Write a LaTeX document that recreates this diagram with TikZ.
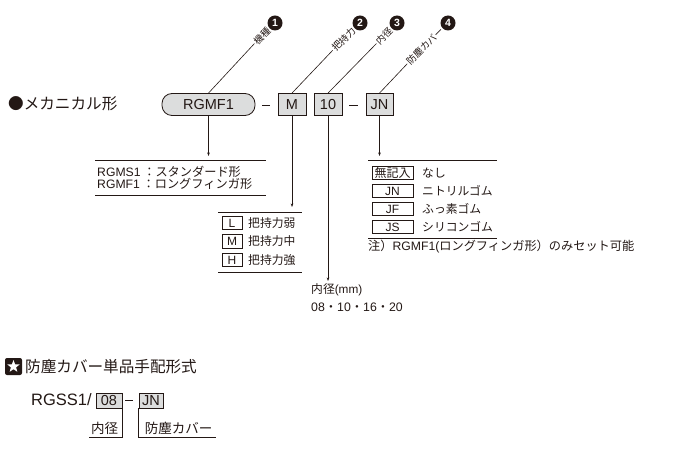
\documentclass[tikz,border=0pt]{standalone}
\usepackage{fontspec}
\setmainfont{Noto Sans CJK JP}
\newfontfamily\lat{Liberation Sans}
\usetikzlibrary{arrows.meta,shapes.geometric}

\definecolor{boxgray}{RGB}{220,221,221}
\definecolor{inkblack}{RGB}{35,24,21}

\tikzset{
	codebox/.style={draw=inkblack, fill=boxgray, line width=0.8pt, minimum height=22pt, inner sep=0pt, font=\fontsize{14.5}{15}\selectfont\lat},
	itembox/.style={draw=inkblack, line width=0.7pt, minimum height=13.5pt, inner sep=0pt, font=\fontsize{12}{12}\selectfont\lat},
	itemtext/.style={anchor=west, inner sep=0pt, font=\fontsize{11.8}{13}\selectfont},
	numdot/.style={circle, fill=inkblack, text=white, minimum size=15pt, inner sep=0pt, font=\fontsize{10.5}{10.5}\selectfont\lat\bfseries},
	leadtext/.style={rotate=45, anchor=east, inner sep=1pt, font=\fontsize{9.5}{10}\selectfont},
	pointer/.style={line width=0.6pt, -{Stealth[length=3.5pt,width=2.6pt]}},
	rule/.style={line width=0.7pt},
	heading/.style={anchor=west, inner sep=0pt, font=\fontsize{15.6}{17}\selectfont}
}

\begin{document}
\begin{tikzpicture}[x=1pt,y=-1pt,inkblack]
	\useasboundingbox (0,0) rectangle (700,462);

	% model code
	\node[heading] (mech) at (8,104) {●メカニカル形};
	\node[codebox, rounded corners=10pt, minimum width=93pt] (rgmf) at (208.5,104.5) {RGMF1};
	\node[codebox, minimum width=28pt] (grip) at (292,104.5) {M};
	\node[codebox, minimum width=28pt] (bore) at (328,104.5) {10};
	\node[codebox, minimum width=27pt] (cover) at (379.5,104.5) {JN};
	\draw[line width=0.8pt] (262,105) -- (270,105);
	\draw[line width=0.8pt] (349,105) -- (358,105);

	% leaders
	\node[numdot] (n1) at (275,23) {1};
	\node[leadtext] (l1) at (n1.225) {機種};
	\draw[line width=0.6pt] (rgmf.north) -- (l1.west);
	\node[numdot] (n2) at (360,23) {2};
	\node[leadtext] (l2) at (n2.225) {把持力};
	\draw[line width=0.6pt] (grip.north) -- (l2.west);
	\node[numdot] (n3) at (397,23) {3};
	\node[leadtext] (l3) at (n3.225) {内径};
	\draw[line width=0.6pt] (bore.north) -- (l3.west);
	\node[numdot] (n4) at (448,23) {4};
	\node[leadtext] (l4) at (n4.225) {防塵カバー};
	\draw[line width=0.6pt] (cover.north) -- (l4.west);

	% type
	\coordinate (typetip) at (208.5,156);
	\draw[pointer] (rgmf.south) -- (typetip);
	\draw[rule] (95,160) -- (266,160);
	\node[itemtext, font=\fontsize{12.2}{13}\selectfont] (rgms) at (97,172) {{\lat RGMS1} ：スタンダード形};
	\node[itemtext, font=\fontsize{12.2}{13}\selectfont] (rgmfl) at (97,184) {{\lat RGMF1} ：ロングフィンガ形};
	\draw[rule] (95,195) -- (266,195);

	% grip force
	\coordinate (griptip) at (292,207);
	\draw[pointer] (grip.south) -- (griptip);
	\draw[rule] (218,212) -- (302,212);
	\foreach \y/\c/\t [count=\i] in {223/L/弱, 241.5/M/中, 260/H/強}{
		\node[itembox, minimum width=20pt] (gb\i) at (232,\y) {\c};
		\node[itemtext] (gt\i) at (248,\y) {把持力\t};
	}
	\draw[rule] (218,272) -- (302,272);

	% bore
	\coordinate (boretip) at (328,281);
	\draw[pointer] (bore.south) -- (boretip);
	\node[itemtext] (borehead) at (311,290) {内径{\lat (mm)}};
	\node[itemtext, font=\fontsize{12.3}{13}\selectfont] (boresizes) at (311,307) {{\lat 08}・{\lat 10}・{\lat 16}・{\lat 20}};

	% cover
	\coordinate (covertip) at (379.5,156);
	\draw[pointer] (cover.south) -- (covertip);
	\draw[rule] (368,160) -- (497,160);
	\foreach \y/\c/\t [count=\i] in {173/{\normalfont 無記入}/なし, 191/JN/ニトリルゴム, 209/JF/ふっ素ゴム, 227/JS/シリコンゴム}{
		\node[itembox, minimum width=41pt] (cb\i) at (392.5,\y) {\c};
		\node[itemtext] (ct\i) at (422,\y) {\t};
	}
	\draw[rule] (368,238) -- (497,238);
	\node[itemtext, font=\fontsize{12.2}{13}\selectfont] (note) at (368,247) {注）{\lat RGMF1(}ロングフィンガ形）のみセット可能};

	% cover only
	\node[fill=inkblack, rounded corners=2pt, minimum size=17pt, inner sep=0pt] (starbox) at (13.5,366.5) {};
	\node[star, star points=5, star point ratio=2.4, fill=white, minimum size=13pt, inner sep=0pt] (starmark) at (starbox) {};
	\node[heading] (covertitle) at (25,367) {防塵カバー単品手配形式};
	\node[anchor=west, inner sep=0pt, font=\fontsize{16.5}{17}\selectfont\lat] (rgss) at (31,400) {RGSS1/};
	\node[codebox, minimum width=26pt, minimum height=15pt] (sbore) at (109,400.5) {08};
	\draw[line width=0.8pt] (125,400) -- (133,400);
	\node[codebox, minimum width=24pt, minimum height=15pt] (scover) at (151,400.5) {JN};
	\coordinate (sborebase) at (89,437);
	\coordinate (scoverbase) at (216,437);
	\draw[rule] (sbore.south east) |- (sborebase);
	\draw[rule] (scover.south west) |- (scoverbase);
	\node[inner sep=0pt, font=\fontsize{13.5}{14}\selectfont] (sborename) at (104.5,428) {内径};
	\node[inner sep=0pt, font=\fontsize{13.5}{14}\selectfont] (scovername) at (178.5,428) {防塵カバー};
\end{tikzpicture}
\end{document}
